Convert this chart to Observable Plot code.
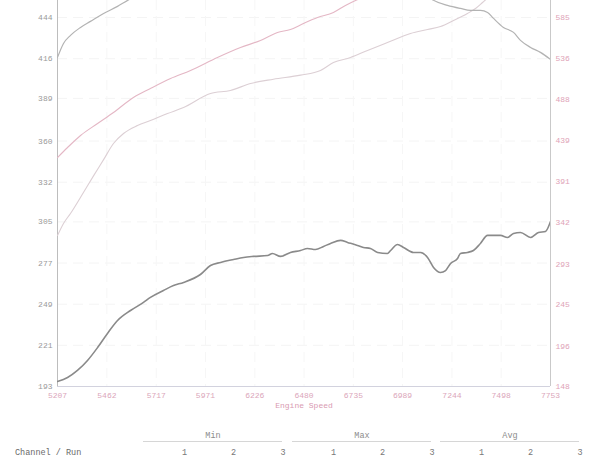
<!DOCTYPE html>
<html><head><meta charset="utf-8">
<script src="https://cdn.jsdelivr.net/npm/d3@7"></script>
<script src="https://cdn.jsdelivr.net/npm/@observablehq/plot@0.6"></script>
<style>
body{margin:0;background:#fff;width:610px;height:458px;overflow:hidden;font-family:"Liberation Mono",monospace;}
#chart svg{display:block}
#table{position:relative;width:610px;height:38px;font-size:8.5px;line-height:10px;}
#table span{position:absolute;white-space:pre;}
.c{transform:translateX(-50%)}
.rl{position:absolute;height:0;border-top:1px solid #d6d6d6;}
</style></head><body><div id="chart"></div><div id="table"></div>
<script>
// Axis tick labels
const xTicks = [5207,5462,5717,5971,6226,6480,6735,6989,7244,7498,7753];
const leftTicks = [193,221,249,277,305,332,360,389,416,444];
const rightTicks = [148,196,245,293,342,391,439,488,536,585];

// Series A (dark grey, left axis)
const rpmA = [5207,5259,5310,5362,5414,5465,5517,5584,5651,5687,5754,5806,5858,5945,5997,6049,6116,6168,6219,6292,6317,6359,6410,6462,6498,6539,6581,6617,6669,6705,6756,6787,6823,6860,6911,6927,6963,6994,7045,7082,7118,7149,7185,7211,7237,7273,7288,7324,7355,7391,7428,7459,7495,7531,7562,7598,7650,7691,7727,7753];
const valA = [196.4,199.1,203.9,210.7,219.5,229.1,237.9,244.7,250.2,253.6,258.3,261.7,263.8,269.2,275.3,277.4,279.4,280.8,281.5,282.1,283.5,281.5,284.2,285.5,286.9,286.2,288.3,290.3,292.4,291.0,289.0,287.6,286.9,284.2,283.5,285.5,289.6,287.6,284.2,284.2,280.8,274.0,270.6,271.9,276.7,280.1,283.5,284.2,285.5,290.3,295.8,295.8,295.8,294.4,297.1,297.8,294.4,297.8,298.5,305.3];

// Series B (light grey, left axis)
const rpmB = [5207,5238,5274,5326,5377,5445,5517,5569,5739,6100,6462,6772,6978,7082,7149,7221,7288,7340,7391,7428,7459,7510,7562,7598,7650,7701,7753];
const valB = [416.9,426.4,431.9,437.3,441.4,446.8,451.6,455.7,465.9,479.5,486.3,482.9,472.7,462.5,455.7,452.3,450.2,448.9,448.9,447.5,443.4,437.3,433.9,428.5,423.7,420.3,415.5];

// Series C (pink, right axis)
const rpmC = [5207,5259,5326,5414,5496,5599,5687,5791,5894,6033,6152,6255,6343,6410,6477,6550,6632,6694,6746,6823,7237,7753];
const valC = [419.2,431.1,445.3,459.5,472.5,490.3,501.0,512.8,522.3,537.7,549.5,557.8,567.3,570.8,577.9,585.0,591.0,599.3,605.2,612.3,640.7,664.4];

// Series D (pale pink-grey, right axis)
const rpmD = [5207,5238,5274,5341,5393,5445,5496,5548,5620,5687,5775,5858,5997,6100,6204,6322,6462,6565,6632,6720,6808,6911,7030,7118,7185,7252,7324,7366,7402,7443,7753];
const valD = [326.8,341.1,352.9,377.8,397.5,416.7,435.8,447.7,457.1,463.1,471.3,478.5,495.0,498.6,506.9,512.0,516.8,522.3,531.7,537.7,546.0,555.4,566.1,570.8,574.4,581.5,589.8,595.7,602.8,611.1,646.6];

// Table
const statGroups = ["Min","Max","Avg"];
const runs = ["1","2","3"];
const rowLabel = "Channel / Run";
const axisTitle = "Engine Speed";

const L0 = leftTicks[0], L1 = leftTicks[leftTicks.length-1];
const R0 = rightTicks[0], R1 = rightTicks[rightTicks.length-1];
const toLeft = v => L0 + (v - R0) * (L1 - L0) / (R1 - R0);
const fromLeft = v => R0 + (v - L0) * (R1 - R0) / (L1 - L0);

const zip = (xs, ys, f) => xs.slice(0, Math.min(xs.length, ys.length)).map((x, i) => ({rpm: x, y: f(ys[i])}));
const A = zip(rpmA, valA, v => v);
const B = zip(rpmB, valB, v => v);
const C = zip(rpmC, valC, toLeft);
const D = zip(rpmD, valD, toLeft);

const chart = Plot.plot({
  width: 610, height: 420,
  marginLeft: 57, marginRight: 60, marginTop: 0, marginBottom: 34,
  x: {domain: [xTicks[0], xTicks[xTicks.length-1]]},
  y: {domain: [193, 455.6]},
  style: {fontFamily: "'Liberation Mono', monospace", fontSize: "8px", background: "white", overflow: "hidden"},
  marks: [
    Plot.ruleY(leftTicks.slice(1), {y: d => d, stroke: "#f4f4f4", strokeDasharray: "10,6"}),
    Plot.ruleX(xTicks.slice(1, -1), {x: d => d, stroke: "#f6f6f6", strokeDasharray: "10,6"}),
    Plot.ruleY([L0], {stroke: "#d2d2de"}),
    Plot.ruleX([xTicks[0]], {stroke: "#bdbdbd"}),
    Plot.ruleX([xTicks[xTicks.length-1]], {stroke: "#c9c9c9"}),
    Plot.axisY(leftTicks, {anchor: "left", tickSize: 0, tickPadding: 5, color: "#9a9a9a", label: null, tickFormat: d => String(d)}),
    Plot.axisY(rightTicks.map(toLeft), {anchor: "right", tickSize: 0, tickPadding: 5, color: "#e0a3b7", label: null, tickFormat: d => String(Math.round(fromLeft(d)))}),
    Plot.axisX(xTicks, {anchor: "bottom", tickSize: 0, tickPadding: 6, color: "#dba6ba", label: null, tickFormat: d => String(d)}),
    Plot.text([axisTitle], {frameAnchor: "bottom", dy: 21, fill: "#d99ab2"}),
    Plot.line(D, {x: "rpm", y: "y", stroke: "#dccfd4", strokeWidth: 1.1, curve: "monotone-x", clip: true}),
    Plot.line(C, {x: "rpm", y: "y", stroke: "#e4b7c5", strokeWidth: 1.1, curve: "monotone-x", clip: true}),
    Plot.line(B, {x: "rpm", y: "y", stroke: "#b3b3b3", strokeWidth: 1.2, curve: "monotone-x", clip: true}),
    Plot.line(A, {x: "rpm", y: "y", stroke: "#8a8a8a", strokeWidth: 1.6, curve: "monotone-x", clip: true})
  ]
});
document.getElementById("chart").append(chart);

// table below the chart
const tbl = document.getElementById("table");
const centers = [213, 362, 510];
const runOffsets = [-28.5, 20.5, 70];
function addSpan(txt, x, top, color, center) {
  const s = document.createElement("span");
  s.textContent = txt;
  s.style.left = x + "px"; s.style.top = top + "px"; s.style.color = color;
  if (center) s.className = "c";
  tbl.append(s);
}
statGroups.forEach((g, gi) => {
  addSpan(g, centers[gi], 11, "#8c8c8c", true);
  const r = document.createElement("div");
  r.className = "rl";
  r.style.left = (centers[gi] - 70) + "px"; r.style.width = "139px"; r.style.top = "21px";
  tbl.append(r);
  runs.forEach((n, ri) => addSpan(n, centers[gi] + runOffsets[ri], 28, "#777", true));
});
addSpan(rowLabel, 15, 28, "#6a6a6a", false);
</script>
</body></html>
